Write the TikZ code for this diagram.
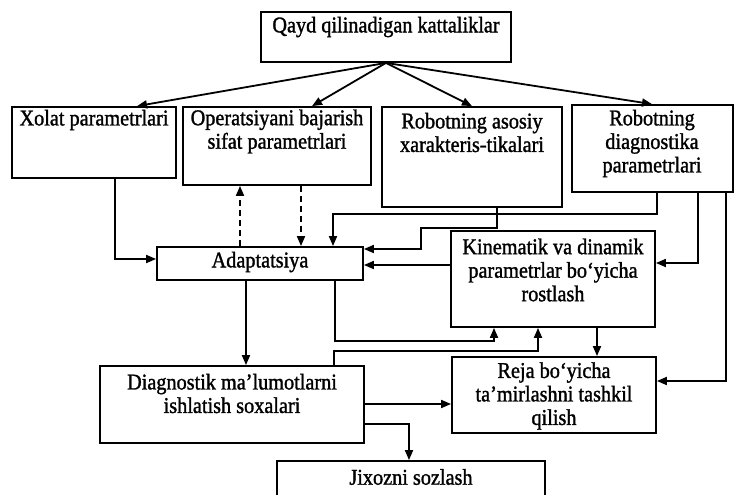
\documentclass[tikz,border=0pt]{standalone}
\usepackage{fontspec}
\setmainfont[FakeStretch=0.9,FakeBold=1.3]{Liberation Serif}
\usetikzlibrary{arrows.meta}
\begin{document}
\begin{tikzpicture}[x=1pt,y=-1pt,
  box/.style={draw, line width=1.8pt, inner sep=0pt},
  txt/.style={inner sep=0pt, align=center, font=\fontsize{22.5}{23.5}\selectfont},
  conn/.style={line width=1.8pt, -{Triangle[length=10pt,width=8pt]}},
  dconn/.style={conn, dash pattern=on 6pt off 4pt}]
\fill[white] (0,0) rectangle (737,495);
\useasboundingbox (0,0) rectangle (737,495);
% boxes
\node[box, minimum width=250pt, minimum height=50pt] (top) at (386,37) {};
\node[box, minimum width=164pt, minimum height=71pt] (xolat) at (94,142.5) {};
\node[box, minimum width=188pt, minimum height=78pt] (oper) at (277,146) {};
\node[box, minimum width=180pt, minimum height=100pt] (asosiy) at (472,157) {};
\node[box, minimum width=161pt, minimum height=87pt] (diag) at (652.5,148.5) {};
\node[box, minimum width=206pt, minimum height=33pt] (adapt) at (260,263.5) {};
\node[box, minimum width=204pt, minimum height=96pt] (kin) at (553,279) {};
\node[box, minimum width=204pt, minimum height=76pt] (reja) at (554,395) {};
\node[box, minimum width=264pt, minimum height=77pt] (dso) at (232,404.5) {};
\node[box, minimum width=268pt, minimum height=44pt] (jix) at (411,483) {};
% texts
\node[txt] (topT) at (386,27) {Qayd qilinadigan kattaliklar};
\node[txt] (xolatT) at (94,120) {Xolat parametrlari};
\node[txt] (operT) at (277,131.5) {Operatsiyani bajarish\\sifat parametrlari};
\node[txt] (asosiyT) at (472,132.5) {Robotning asosiy\\xarakteris-tikalari};
\node[txt] (diagT) at (652,143.5) {Robotning\\diagnostika\\parametrlari};
\node[txt] (adaptT) at (260,262) {Adaptatsiya};
\node[txt] (kinT) at (553,270) {Kinematik va dinamik\\parametrlar bo‘yicha\\rostlash};
\node[txt] (rejaT) at (554,396) {Reja bo‘yicha\\ta’mirlashni tashkil\\qilish};
\node[txt] (dsoT) at (232,393.5) {Diagnostik ma’lumotlarni\\ishlatish soxalari};
\node[txt] (jixT) at (411,477) {Jixozni sozlash};
% connectors from top
\draw[conn] (top.south) -- (137,0 |- xolat.north);
\draw[conn] (top.south) -- (312,0 |- oper.north);
\draw[conn] (top.south) -- (472,0 |- asosiy.north);
\draw[conn] (top.south) -- (652,0 |- diag.north);
% to adaptatsiya
\draw[conn] (115,0 |- xolat.south) |- (adapt.west |- 0,259);
\draw[dconn] (240,0 |- adapt.north) -- (240,0 |- oper.south);
\draw[dconn] (301,0 |- oper.south) -- (301,0 |- adapt.north);
\draw[conn] (657,0 |- diag.south) |- (333,214) -- (333,0 |- adapt.north);
\draw[conn] (497,0 |- asosiy.south) |- (421,228) |- (adapt.east |- 0,249);
\draw[conn] (kin.west |- 0,265) -- (adapt.east |- 0,265);
% diag to kin and reja
\draw[conn] (698,0 |- diag.south) |- (kin.east |- 0,263);
\draw[conn] (726,0 |- diag.south) |- (reja.east |- 0,381);
% from adaptatsiya
\draw[conn] (246,0 |- adapt.south) -- (246,0 |- dso.north);
\draw[conn] (335,0 |- adapt.south) |- (494,341) -- (494,0 |- kin.south);
\draw[conn] (334,0 |- dso.north) |- (538,351) -- (538,0 |- kin.south);
\draw[conn] (597,0 |- kin.south) -- (597,0 |- reja.north);
\draw[conn] (dso.east |- 0,404) -- (reja.west |- 0,404);
\draw[conn] (dso.east |- 0,424) -| (409,0 |- jix.north);
\end{tikzpicture}
\end{document}
